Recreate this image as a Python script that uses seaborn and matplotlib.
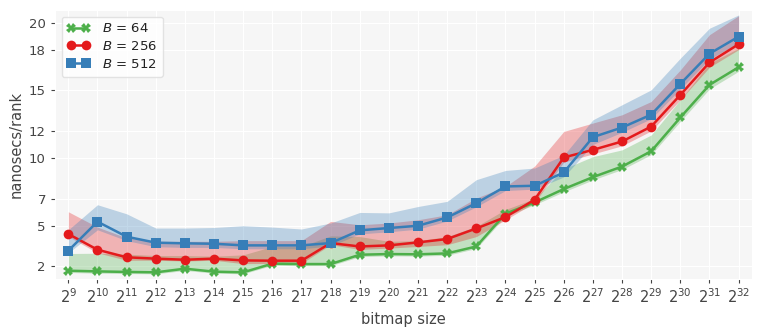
import numpy as np
import pandas as pd
import seaborn as sns
import matplotlib
matplotlib.use("Agg")
import matplotlib.pyplot as plt

# bitmap size exponents (2^9 .. 2^32)
exps = [9, 10, 11, 12, 13, 14, 15, 16, 17, 18, 19, 20,
        21, 22, 23, 24, 25, 26, 27, 28, 29, 30, 31, 32]

# B = 64
b64_mid = [1.68, 1.63, 1.59, 1.56, 1.83, 1.61, 1.56, 2.20, 2.17, 2.17, 2.86, 2.91,
           2.89, 2.96, 3.47, 5.89, 6.72, 7.71, 8.59, 9.37, 10.50, 12.99, 15.40, 16.70]
b64_lo = [1.55, 1.50, 1.47, 1.45, 1.70, 1.50, 1.45, 2.08, 2.05, 2.05, 2.72, 2.78,
          2.76, 2.82, 3.32, 5.70, 6.55, 7.50, 8.38, 9.15, 10.25, 12.70, 15.10, 16.40]
b64_hi = [2.95, 2.97, 2.90, 2.80, 2.80, 2.75, 2.85, 3.47, 3.47, 4.25, 4.20, 3.85,
          3.90, 4.20, 4.95, 6.20, 7.00, 9.20, 10.10, 10.60, 11.70, 14.30, 17.00, 18.10]

# B = 256
b256_mid = [4.39, 3.23, 2.67, 2.57, 2.49, 2.57, 2.44, 2.42, 2.42, 3.72, 3.47, 3.55,
            3.77, 4.02, 4.80, 5.64, 6.92, 10.04, 10.60, 11.22, 12.32, 14.66, 17.05, 18.40]
b256_lo = [4.20, 3.00, 2.45, 2.45, 2.40, 2.45, 2.20, 2.22, 2.22, 3.60, 3.25, 3.35,
           3.47, 3.60, 4.20, 5.44, 6.70, 9.70, 10.30, 10.90, 12.00, 14.30, 16.70, 18.00]
b256_hi = [6.03, 4.90, 4.10, 3.85, 3.85, 3.85, 3.90, 3.90, 3.90, 5.32, 5.07, 5.20,
           5.44, 5.81, 7.04, 7.90, 9.40, 11.96, 12.58, 13.19, 14.17, 16.50, 19.10, 20.50]

# B = 512
b512_mid = [3.16, 5.30, 4.19, 3.75, 3.70, 3.67, 3.55, 3.55, 3.55, 3.72, 4.66, 4.83,
            5.00, 5.61, 6.67, 7.90, 7.95, 8.93, 11.54, 12.25, 13.20, 15.47, 17.70, 18.96]
b512_lo = [3.00, 4.70, 3.90, 3.45, 3.40, 3.40, 3.30, 3.30, 3.30, 3.50, 4.40, 4.55,
           4.75, 5.35, 6.40, 7.60, 7.70, 8.60, 11.00, 11.90, 12.90, 15.10, 17.30, 18.50]
b512_hi = [4.70, 6.55, 5.88, 4.83, 4.83, 4.87, 5.00, 4.90, 4.76, 5.20, 5.98, 5.95,
           6.42, 6.80, 8.40, 9.08, 9.26, 10.20, 12.82, 13.93, 15.03, 17.37, 19.58, 20.56]

labels = ["$B$ = 64", "$B$ = 256", "$B$ = 512"]
colors = ["#4daf4a", "#e41a1c", "#377eb8"]
markers = ["X", "o", "s"]

rows = []
for lab, lo, mid, hi in zip(labels,
                            [b64_lo, b256_lo, b512_lo],
                            [b64_mid, b256_mid, b512_mid],
                            [b64_hi, b256_hi, b512_hi]):
    for e, a, b, c in zip(exps, lo, mid, hi):
        for v in (a, b, c):
            rows.append({"exp": e, "ns": v, "B": lab})
df = pd.DataFrame(rows)

sns.set_style("darkgrid", {"axes.facecolor": "#f6f6f6", "grid.color": "white",
                           "xtick.bottom": True, "ytick.left": True,
                           "text.color": "#222222", "axes.labelcolor": "#444444",
                           "xtick.color": "#444444", "ytick.color": "#444444"})
plt.rcParams["legend.numpoints"] = 2

fig, ax = plt.subplots(figsize=(7.63, 3.31), dpi=100)
sns.lineplot(data=df, x="exp", y="ns", hue="B", style="B",
             palette=dict(zip(labels, colors)),
             markers=dict(zip(labels, markers)), dashes=False,
             estimator="median", errorbar=lambda v: (v.min(), v.max()),
             err_kws={"alpha": 0.3, "linewidth": 0},
             markersize=7, markeredgewidth=0, linewidth=1.8, ax=ax)

ax.set_xticks(exps)
ax.set_xticklabels([f"$2^{{{e}}}$" for e in exps], fontsize=10.5)
ax.set_yticks([2, 5, 7, 10, 12, 15, 18, 20])
ax.tick_params(axis="y", labelsize=9.5, length=3)
ax.tick_params(axis="x", length=3)
ax.set_xlim(8.54, 32.47)
ax.set_ylim(1.09, 20.93)
ax.set_xlabel("bitmap size", fontsize=10.5)
ax.set_ylabel("nanosecs/rank", fontsize=10.5)

leg = ax.legend(loc="upper left", fontsize=9.5, frameon=True, title=None,
                handlelength=1.7, labelspacing=0.35, borderpad=0.45,
                handletextpad=0.9)
leg.get_frame().set_facecolor("white")
leg.get_frame().set_edgecolor("#dddddd")

fig.subplots_adjust(left=0.072, right=0.986, top=0.97, bottom=0.158)
fig.savefig("out.png", dpi=100)
